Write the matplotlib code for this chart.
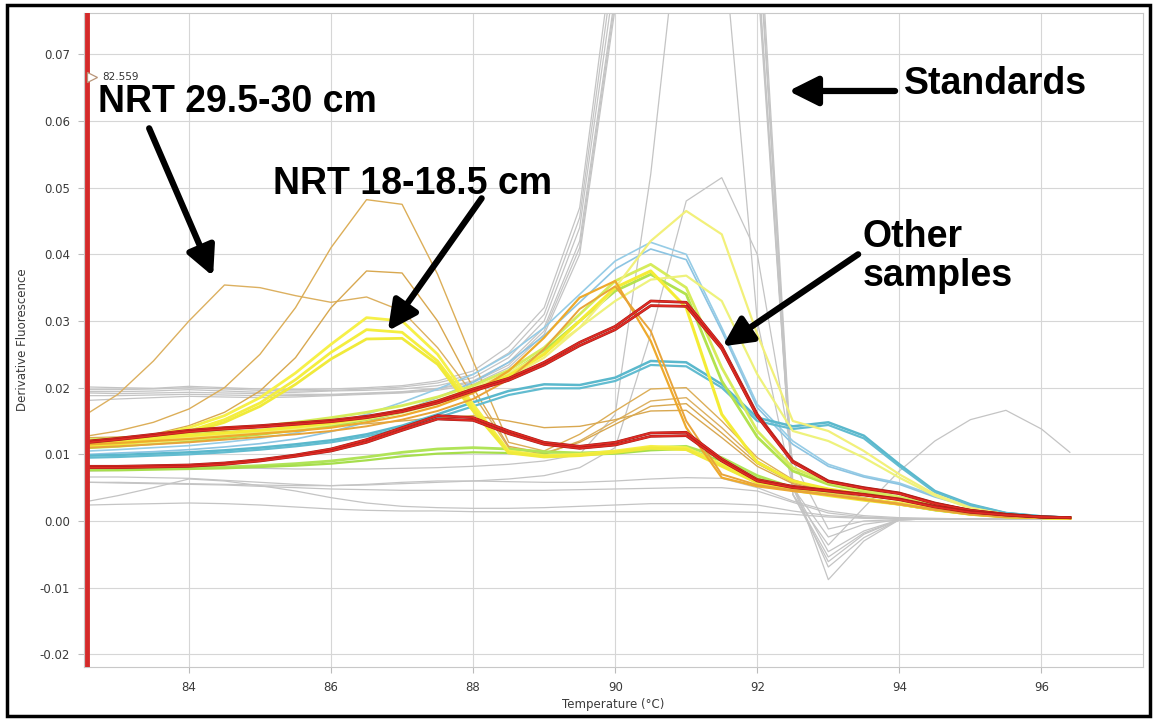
import matplotlib
matplotlib.use('Agg')
import matplotlib.pyplot as plt
import matplotlib.patheffects as pe
import matplotlib.transforms as mtransforms
from matplotlib.patches import Rectangle

# melt curve grid (deg C)
temps = [82.6, 83.0, 83.5, 84.0, 84.5, 85.0, 85.5, 86.0, 86.5, 87.0,
         87.5, 88.0, 88.5, 89.0, 89.5, 90.0, 90.5, 91.0, 91.5, 92.0,
         92.5, 93.0, 93.5, 94.0, 94.5, 95.0, 95.5, 96.0, 96.4]

# standards (gray)
std_a = [0.0201, 0.0200, 0.0199, 0.0202, 0.0200, 0.0198, 0.0197, 0.0198, 0.0200, 0.0203,
         0.0210, 0.0225, 0.0262, 0.0320, 0.0470, 0.0880, 0.1400, 0.1650, 0.1500, 0.0950,
         0.0060, -0.0088, -0.0030, 0.0002, 0.0003, 0.0003, 0.0003, 0.0003, 0.0003]
std_b = [0.0194, 0.0194, 0.0195, 0.0197, 0.0195, 0.0193, 0.0193, 0.0195, 0.0196, 0.0198,
         0.0203, 0.0215, 0.0245, 0.0300, 0.0440, 0.0820, 0.1300, 0.1600, 0.1450, 0.0900,
         0.0050, -0.0069, -0.0025, 0.0002, 0.0003, 0.0003, 0.0003, 0.0003, 0.0003]
std_c = [0.0192, 0.0191, 0.0192, 0.0193, 0.0192, 0.0191, 0.0190, 0.0190, 0.0192, 0.0194,
         0.0199, 0.0210, 0.0238, 0.0290, 0.0420, 0.0790, 0.1250, 0.1500, 0.1400, 0.0850,
         0.0040, -0.0061, -0.0020, 0.0002, 0.0003, 0.0003, 0.0003, 0.0003, 0.0003]
std_d = [0.0181, 0.0183, 0.0185, 0.0187, 0.0186, 0.0185, 0.0186, 0.0188, 0.0190, 0.0192,
         0.0196, 0.0205, 0.0230, 0.0280, 0.0400, 0.0770, 0.1200, 0.1450, 0.1350, 0.0820,
         0.0040, -0.0054, -0.0018, 0.0002, 0.0003, 0.0003, 0.0003, 0.0003, 0.0003]
std_e = [0.0188, 0.0188, 0.0189, 0.0190, 0.0189, 0.0188, 0.0188, 0.0189, 0.0191, 0.0193,
         0.0198, 0.0208, 0.0234, 0.0285, 0.0410, 0.0780, 0.1220, 0.1480, 0.1380, 0.0840,
         0.0040, -0.0036, 0.0020, 0.0075, 0.0120, 0.0152, 0.0166, 0.0138, 0.0103]
std_f = [0.0197, 0.0197, 0.0198, 0.0200, 0.0198, 0.0196, 0.0195, 0.0196, 0.0198, 0.0201,
         0.0207, 0.0220, 0.0252, 0.0310, 0.0455, 0.0850, 0.1350, 0.1600, 0.1480, 0.0920,
         0.0050, -0.0046, -0.0015, 0.0002, 0.0003, 0.0003, 0.0003, 0.0003, 0.0003]
gray_narrow = [0.0075, 0.0076, 0.0078, 0.0080, 0.0080, 0.0079, 0.0078, 0.0078, 0.0078, 0.0079,
               0.0080, 0.0082, 0.0085, 0.0090, 0.0100, 0.0160, 0.0520, 0.1000, 0.0900, 0.0300,
               0.0050, -0.0024, -0.0005, 0.0002, 0.0003, 0.0003, 0.0003, 0.0003, 0.0003]
gray_mid = [0.0058, 0.0058, 0.0057, 0.0056, 0.0055, 0.0054, 0.0053, 0.0053, 0.0054, 0.0056,
            0.0058, 0.0060, 0.0063, 0.0068, 0.0080, 0.0110, 0.0280, 0.0480, 0.0515, 0.0400,
            0.0090, -0.0012, 0.0000, 0.0002, 0.0003, 0.0003, 0.0003, 0.0003, 0.0003]
gray_low_a = [0.0066, 0.0066, 0.0065, 0.0064, 0.0061, 0.0058, 0.0055, 0.0053, 0.0055, 0.0058,
              0.0060, 0.0060, 0.0059, 0.0058, 0.0058, 0.0060, 0.0063, 0.0065, 0.0064, 0.0050,
              0.0030, 0.0015, 0.0008, 0.0005, 0.0004, 0.0003, 0.0003, 0.0003, 0.0003]
gray_low_b = [0.0030, 0.0038, 0.0050, 0.0063, 0.0060, 0.0053, 0.0045, 0.0035, 0.0027, 0.0022,
              0.0020, 0.0019, 0.0019, 0.0020, 0.0022, 0.0024, 0.0026, 0.0026, 0.0026, 0.0024,
              0.0015, 0.0008, 0.0005, 0.0003, 0.0003, 0.0003, 0.0003, 0.0003, 0.0003]
gray_low_c = [0.0024, 0.0025, 0.0026, 0.0027, 0.0026, 0.0024, 0.0021, 0.0018, 0.0016, 0.0015,
              0.0015, 0.0014, 0.0014, 0.0014, 0.0014, 0.0014, 0.0014, 0.0014, 0.0014, 0.0013,
              0.0010, 0.0006, 0.0004, 0.0003, 0.0003, 0.0003, 0.0003, 0.0003, 0.0003]
gray_low_d = [0.0058, 0.0057, 0.0056, 0.0055, 0.0054, 0.0052, 0.0050, 0.0048, 0.0047, 0.0046,
              0.0046, 0.0046, 0.0046, 0.0046, 0.0047, 0.0048, 0.0049, 0.0050, 0.0050, 0.0045,
              0.0028, 0.0012, 0.0006, 0.0004, 0.0003, 0.0003, 0.0003, 0.0003, 0.0003]

# NRT wells (tan, early peaks)
nrt29 = [0.0163, 0.0190, 0.0240, 0.0300, 0.0354, 0.0350, 0.0338, 0.0328, 0.0336, 0.0315,
         0.0260, 0.0190, 0.0110, 0.0100, 0.0120, 0.0150, 0.0180, 0.0185, 0.0140, 0.0090,
         0.0060, 0.0044, 0.0034, 0.0026, 0.0017, 0.0011, 0.0007, 0.0005, 0.0004]
nrt_hi = [0.0128, 0.0135, 0.0148, 0.0168, 0.0200, 0.0250, 0.0320, 0.0410, 0.0482, 0.0475,
          0.0370, 0.0240, 0.0118, 0.0105, 0.0130, 0.0165, 0.0198, 0.0200, 0.0150, 0.0095,
          0.0062, 0.0045, 0.0035, 0.0027, 0.0018, 0.0011, 0.0007, 0.0005, 0.0004]
nrt_mid = [0.0118, 0.0122, 0.0130, 0.0143, 0.0163, 0.0195, 0.0245, 0.0320, 0.0375, 0.0372,
           0.0300, 0.0200, 0.0112, 0.0102, 0.0118, 0.0145, 0.0172, 0.0176, 0.0132, 0.0086,
           0.0058, 0.0043, 0.0033, 0.0025, 0.0016, 0.0010, 0.0006, 0.0005, 0.0004]
tan_flat = [0.0125, 0.0126, 0.0128, 0.0131, 0.0134, 0.0137, 0.0140, 0.0143, 0.0146, 0.0150,
            0.0155, 0.0158, 0.0150, 0.0140, 0.0142, 0.0152, 0.0165, 0.0166, 0.0125, 0.0082,
            0.0056, 0.0042, 0.0032, 0.0024, 0.0016, 0.0010, 0.0006, 0.0005, 0.0004]

# NRT 18-18.5 cm (yellow)
nrt18_a = [0.0120, 0.0122, 0.0128, 0.0140, 0.0158, 0.0185, 0.0222, 0.0265, 0.0305, 0.0300,
           0.0250, 0.0175, 0.0105, 0.0098, 0.0100, 0.0105, 0.0112, 0.0110, 0.0085, 0.0060,
           0.0048, 0.0040, 0.0033, 0.0027, 0.0018, 0.0011, 0.0007, 0.0005, 0.0004]
nrt18_b = [0.0115, 0.0118, 0.0124, 0.0135, 0.0152, 0.0177, 0.0212, 0.0253, 0.0287, 0.0283,
           0.0240, 0.0170, 0.0103, 0.0097, 0.0099, 0.0104, 0.0110, 0.0108, 0.0083, 0.0058,
           0.0047, 0.0039, 0.0032, 0.0026, 0.0017, 0.0011, 0.0007, 0.0005, 0.0004]
nrt18_c = [0.0112, 0.0115, 0.0121, 0.0132, 0.0148, 0.0172, 0.0205, 0.0243, 0.0273, 0.0274,
           0.0235, 0.0165, 0.0102, 0.0096, 0.0098, 0.0103, 0.0109, 0.0107, 0.0082, 0.0057,
           0.0046, 0.0038, 0.0031, 0.0025, 0.0017, 0.0010, 0.0006, 0.0005, 0.0004]

# other samples
orange_a = [0.0115, 0.0117, 0.0120, 0.0123, 0.0127, 0.0131, 0.0135, 0.0140, 0.0148, 0.0158,
            0.0172, 0.0192, 0.0225, 0.0275, 0.0335, 0.0360, 0.0270, 0.0140, 0.0065, 0.0052,
            0.0045, 0.0039, 0.0032, 0.0025, 0.0017, 0.0010, 0.0006, 0.0005, 0.0004]
orange_b = [0.0110, 0.0112, 0.0115, 0.0118, 0.0122, 0.0126, 0.0130, 0.0135, 0.0142, 0.0152,
            0.0165, 0.0183, 0.0212, 0.0258, 0.0318, 0.0352, 0.0285, 0.0150, 0.0070, 0.0054,
            0.0046, 0.0040, 0.0033, 0.0026, 0.0017, 0.0010, 0.0006, 0.0005, 0.0004]
yellow_a = [0.0118, 0.0120, 0.0124, 0.0128, 0.0132, 0.0136, 0.0141, 0.0147, 0.0155, 0.0165,
            0.0178, 0.0195, 0.0218, 0.0250, 0.0300, 0.0350, 0.0375, 0.0320, 0.0160, 0.0088,
            0.0060, 0.0048, 0.0040, 0.0032, 0.0021, 0.0013, 0.0008, 0.0005, 0.0004]
yellow_b = [0.0112, 0.0114, 0.0118, 0.0122, 0.0127, 0.0132, 0.0138, 0.0145, 0.0153, 0.0163,
            0.0176, 0.0193, 0.0215, 0.0245, 0.0290, 0.0350, 0.0420, 0.0465, 0.0430, 0.0280,
            0.0150, 0.0135, 0.0105, 0.0070, 0.0040, 0.0020, 0.0010, 0.0006, 0.0004]
yellow_c = [0.0116, 0.0118, 0.0121, 0.0125, 0.0129, 0.0134, 0.0140, 0.0147, 0.0156, 0.0167,
            0.0181, 0.0199, 0.0222, 0.0252, 0.0290, 0.0330, 0.0362, 0.0368, 0.0330, 0.0220,
            0.0135, 0.0120, 0.0095, 0.0065, 0.0038, 0.0019, 0.0010, 0.0006, 0.0004]
lime_a = [0.0110, 0.0112, 0.0116, 0.0120, 0.0125, 0.0130, 0.0136, 0.0143, 0.0152, 0.0163,
          0.0177, 0.0195, 0.0220, 0.0255, 0.0300, 0.0345, 0.0370, 0.0340, 0.0210, 0.0126,
          0.0075, 0.0055, 0.0044, 0.0035, 0.0023, 0.0014, 0.0008, 0.0005, 0.0004]
lime_b = [0.0122, 0.0124, 0.0128, 0.0132, 0.0137, 0.0142, 0.0148, 0.0155, 0.0163, 0.0173,
          0.0186, 0.0203, 0.0226, 0.0260, 0.0310, 0.0360, 0.0385, 0.0350, 0.0230, 0.0135,
          0.0080, 0.0058, 0.0046, 0.0036, 0.0024, 0.0014, 0.0008, 0.0005, 0.0004]
lime_low_a = [0.0079, 0.0079, 0.0079, 0.0080, 0.0081, 0.0083, 0.0086, 0.0090, 0.0096, 0.0103,
              0.0108, 0.0110, 0.0108, 0.0104, 0.0102, 0.0104, 0.0110, 0.0112, 0.0095, 0.0068,
              0.0050, 0.0040, 0.0033, 0.0026, 0.0017, 0.0010, 0.0006, 0.0005, 0.0004]
lime_low_b = [0.0076, 0.0076, 0.0077, 0.0078, 0.0079, 0.0081, 0.0083, 0.0086, 0.0091, 0.0097,
              0.0101, 0.0103, 0.0102, 0.0100, 0.0099, 0.0101, 0.0106, 0.0108, 0.0090, 0.0064,
              0.0048, 0.0039, 0.0032, 0.0025, 0.0016, 0.0010, 0.0006, 0.0005, 0.0004]
blue_a = [0.0105, 0.0107, 0.0110, 0.0113, 0.0118, 0.0124, 0.0132, 0.0145, 0.0160, 0.0178,
          0.0198, 0.0220, 0.0250, 0.0290, 0.0340, 0.0390, 0.0418, 0.0400, 0.0290, 0.0175,
          0.0120, 0.0085, 0.0068, 0.0057, 0.0038, 0.0022, 0.0012, 0.0007, 0.0005]
blue_b = [0.0100, 0.0102, 0.0104, 0.0107, 0.0111, 0.0116, 0.0123, 0.0134, 0.0148, 0.0165,
          0.0185, 0.0208, 0.0238, 0.0278, 0.0328, 0.0378, 0.0408, 0.0392, 0.0285, 0.0170,
          0.0115, 0.0082, 0.0066, 0.0055, 0.0036, 0.0021, 0.0012, 0.0007, 0.0005]
teal_a = [0.0098, 0.0099, 0.0101, 0.0103, 0.0106, 0.0110, 0.0115, 0.0121, 0.0130, 0.0143,
          0.0160, 0.0178, 0.0195, 0.0205, 0.0204, 0.0215, 0.0240, 0.0238, 0.0205, 0.0155,
          0.0142, 0.0148, 0.0128, 0.0085, 0.0045, 0.0025, 0.0012, 0.0007, 0.0005]
teal_b = [0.0095, 0.0096, 0.0098, 0.0100, 0.0103, 0.0107, 0.0112, 0.0118, 0.0127, 0.0139,
          0.0155, 0.0172, 0.0189, 0.0199, 0.0199, 0.0210, 0.0234, 0.0232, 0.0200, 0.0150,
          0.0138, 0.0144, 0.0124, 0.0082, 0.0043, 0.0024, 0.0012, 0.0007, 0.0005]
red_a = [0.0120, 0.0124, 0.0130, 0.0136, 0.0140, 0.0143, 0.0147, 0.0151, 0.0157, 0.0166,
         0.0180, 0.0198, 0.0214, 0.0238, 0.0268, 0.0292, 0.0330, 0.0328, 0.0262, 0.0160,
         0.0090, 0.0060, 0.0050, 0.0042, 0.0027, 0.0016, 0.0010, 0.0006, 0.0005]
red_b = [0.0118, 0.0122, 0.0128, 0.0134, 0.0138, 0.0141, 0.0145, 0.0149, 0.0155, 0.0164,
         0.0177, 0.0195, 0.0211, 0.0234, 0.0263, 0.0287, 0.0323, 0.0322, 0.0258, 0.0157,
         0.0088, 0.0059, 0.0049, 0.0041, 0.0026, 0.0016, 0.0010, 0.0006, 0.0005]
red_c = [0.0082, 0.0082, 0.0083, 0.0084, 0.0087, 0.0092, 0.0099, 0.0108, 0.0122, 0.0140,
         0.0158, 0.0155, 0.0135, 0.0118, 0.0112, 0.0118, 0.0132, 0.0133, 0.0093, 0.0062,
         0.0052, 0.0046, 0.0040, 0.0033, 0.0022, 0.0014, 0.0009, 0.0006, 0.0005]
red_d = [0.0080, 0.0080, 0.0081, 0.0082, 0.0085, 0.0090, 0.0097, 0.0105, 0.0118, 0.0136,
         0.0153, 0.0151, 0.0131, 0.0115, 0.0109, 0.0114, 0.0127, 0.0128, 0.0090, 0.0060,
         0.0050, 0.0045, 0.0039, 0.0032, 0.0021, 0.0013, 0.0009, 0.0006, 0.0005]

cursor_temp = 82.559

fig = plt.figure(figsize=(11.54, 7.21), dpi=100)
ax = fig.add_axes([0.0728, 0.0749, 0.9177, 0.9071])

GRAY = '#c4c4c4'
draw_order = [
    (std_a, GRAY, 0.9), (std_b, GRAY, 0.9), (std_c, GRAY, 0.9), (std_d, GRAY, 0.9),
    (std_e, GRAY, 0.9), (std_f, GRAY, 0.9), (gray_narrow, GRAY, 0.9), (gray_mid, GRAY, 0.9),
    (gray_low_a, GRAY, 0.9), (gray_low_b, GRAY, 0.9), (gray_low_c, GRAY, 0.9),
    (gray_low_d, GRAY, 0.9),
    (nrt29, '#dcb060', 1.0), (nrt_hi, '#dcae58', 1.0), (nrt_mid, '#d8a850', 1.0),
    (tan_flat, '#d9a850', 1.0),
    (blue_a, '#96cce6', 1.2), (blue_b, '#8cc4e2', 1.2),
    (teal_a, '#5ab8cc', 1.8), (teal_b, '#62bcd0', 1.6),
    (lime_low_a, '#b0e458', 2.0), (lime_low_b, '#a6de4c', 1.6),
    (lime_a, '#b2e24e', 2.0), (lime_b, '#d6ec5c', 2.0),
    (yellow_c, '#eef27c', 1.6), (yellow_b, '#f2f07a', 1.6), (yellow_a, '#f4ec36', 2.2),
    (nrt18_a, '#f6f048', 2.0), (nrt18_b, '#f4ee3e', 2.0), (nrt18_c, '#f0ea3a', 2.0),
    (orange_a, '#eeaa2c', 1.6), (orange_b, '#e8a43a', 1.4),
]
for series, color, lw in draw_order:
    ax.plot(temps, series, color=color, lw=lw, solid_joinstyle='round')

for series in (red_a, red_b, red_c, red_d):
    ax.plot(temps, series, color='#e02a24', lw=1.3,
            path_effects=[pe.Stroke(linewidth=2.0, foreground='#a01c14'), pe.Normal()])

ax.axvline(cursor_temp, color='#d42a2a', lw=3.5, zorder=6)
shift = mtransforms.offset_copy(ax.transData, fig=fig, x=5, y=0, units='dots')
ax.plot([cursor_temp], [0.0666], marker='>', ms=7, mfc='white', mec='#b89478',
        mew=0.9, transform=shift, zorder=7, clip_on=False)
ax.annotate(f'{cursor_temp:.3f}', xy=(cursor_temp, 0.0666), xytext=(16, 0),
            textcoords='offset pixels', va='center', ha='left', fontsize=7.5, color='#333333')

ax.set_xlim(82.523, 97.43)
ax.set_ylim(-0.0219, 0.0762)
ax.set_xticks([84, 86, 88, 90, 92, 94, 96])
ax.set_yticks([-0.02, -0.01, 0.0, 0.01, 0.02, 0.03, 0.04, 0.05, 0.06, 0.07])
ax.yaxis.set_major_formatter(matplotlib.ticker.FormatStrFormatter('%.2f'))
ax.grid(True, color='#d6d6d6', lw=0.8)
ax.set_axisbelow(True)
ax.tick_params(labelsize=8.5, labelcolor='#3a3a3a', color='#bbbbbb', length=4, width=0.8, pad=6)
for sp in ax.spines.values():
    sp.set_color('#c8c8c8')
    sp.set_linewidth(0.8)
ax.set_xlabel('Temperature (°C)', fontsize=8.5, color='#3a3a3a')
ax.set_ylabel('Derivative Fluorescence', fontsize=8.5, color='#3a3a3a')
ax.xaxis.set_label_coords(0.5, -0.048)
ax.yaxis.set_label_coords(-0.052, 0.5)

# callouts
big = dict(fontfamily='Liberation Sans', fontweight='bold', fontsize=27,
           color='black', zorder=20, clip_on=False)
ax.text(82.72, 0.0628, 'NRT 29.5-30 cm', va='center', ha='left', **big)
ax.text(85.18, 0.0505, 'NRT 18-18.5 cm', va='center', ha='left', **big)
ax.text(94.06, 0.0655, 'Standards', va='center', ha='left', **big)
ax.text(93.48, 0.0397, 'Other\nsamples', va='center', ha='left', linespacing=1.1, **big)

arrow = dict(arrowstyle='-|>,head_length=0.8,head_width=0.4', lw=4.5, color='black',
             mutation_scale=22, shrinkA=0, shrinkB=0)
callouts = [((84.34, 0.0367), (83.44, 0.0589)),
            ((86.80, 0.0285), (88.12, 0.0484)),
            ((92.44, 0.0645), (93.94, 0.0645)),
            ((91.51, 0.0262), (93.42, 0.0400))]
for head, tail in callouts:
    ax.annotate('', xy=head, xytext=tail, arrowprops=arrow, zorder=21)

fig.add_artist(Rectangle((7 / 1154, 5 / 721), 1143 / 1154, 711 / 721,
                         transform=fig.transFigure, fill=False, ec='black', lw=2.5))

fig.savefig('out.png', dpi=100, facecolor='white')
